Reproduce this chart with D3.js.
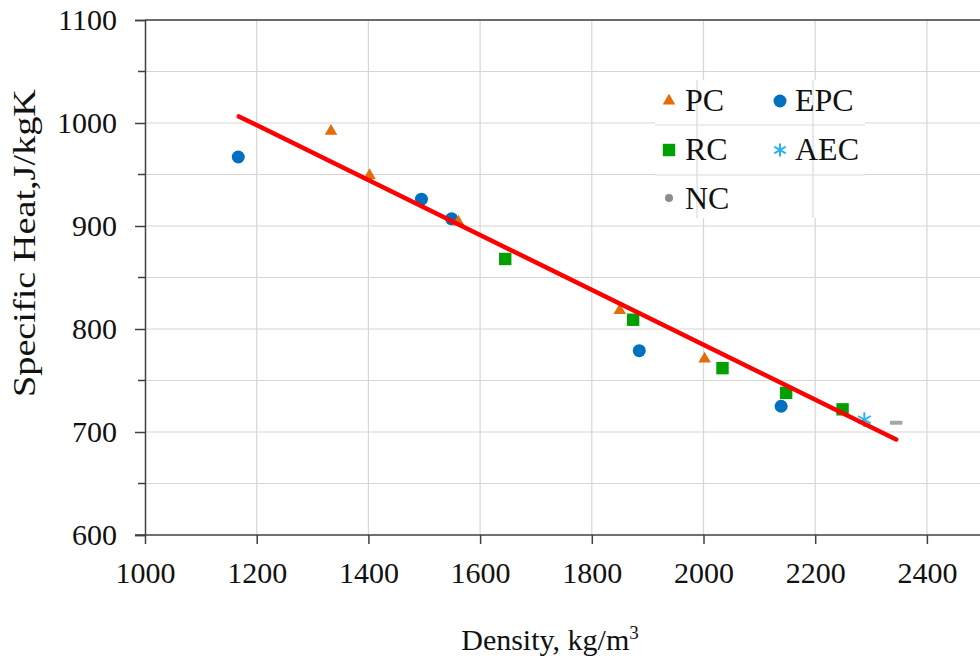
<!DOCTYPE html>
<html>
<head>
<meta charset="utf-8">
<script src="https://cdn.jsdelivr.net/npm/d3@7"></script>
<style>
  html, body { margin: 0; padding: 0; background: #fff; }
  svg { display: block; font-family: "Liberation Serif", "Times New Roman", serif; }
</style>
</head>
<body>
<svg id="chart" width="980" height="661"></svg>
<script>
// ---- Data ----
const seriesNames = ["PC", "EPC", "RC", "AEC", "NC"];
const pcDensity  = [1333, 1402, 1561, 1850, 2002];
const pcHeat     = [992, 949, 904, 818, 771];
const epcDensity = [1167, 1495, 1549, 1885, 2139];
const epcHeat    = [967, 926, 907, 779, 725];
const rcDensity  = [1645, 1874, 2034, 2148, 2249];
const rcHeat     = [868, 809, 762, 738, 722];
const aecDensity = [2288];
const aecHeat    = [712];
const ncDensity  = [2345];
const ncHeat     = [709];
// linear trend line (fitted over all points)
const trendDensity = [1168, 2345];
const trendHeat    = [1006.4, 692.8];

const xTicks = [1000, 1200, 1400, 1600, 1800, 2000, 2200, 2400];
const yTicks = [600, 700, 800, 900, 1000, 1100];
const yMinorTicks = [650, 750, 850, 950, 1050];

// ---- Layout ----
const svg = d3.select("#chart");
const W = 980, H = 661;
const plotLeft = 145, plotTop = 20, plotBottom = 535;
const x = d3.scaleLinear().domain([1000, 2600]).range([plotLeft, plotLeft + 1600 * 0.5585]);
const y = d3.scaleLinear().domain([600, 1100]).range([plotBottom, plotTop]);

const gridColor = "#d6d6d6";
const axisColor = "#404040";

// gridlines
svg.append("g").selectAll("line")
  .data(d3.range(650, 1101, 50))
  .join("line")
  .attr("x1", plotLeft).attr("x2", W)
  .attr("y1", d => y(d)).attr("y2", d => y(d))
  .attr("stroke", gridColor).attr("stroke-width", 1.2);

svg.append("g").selectAll("line")
  .data(xTicks.slice(1))
  .join("line")
  .attr("x1", d => x(d)).attr("x2", d => x(d))
  .attr("y1", plotTop).attr("y2", plotBottom)
  .attr("stroke", gridColor).attr("stroke-width", 1.2);

// top border
svg.append("line").attr("x1", plotLeft).attr("x2", W).attr("y1", plotTop).attr("y2", plotTop)
  .attr("stroke", axisColor).attr("stroke-width", 1.5);

// Y axis (major ticks with labels)
const yAxis = d3.axisLeft(y).tickValues(yTicks).tickSize(10).tickPadding(18).tickFormat(d3.format("d"));
const gy = svg.append("g").attr("transform", `translate(${plotLeft},0)`).call(yAxis);
gy.select(".domain").attr("stroke", axisColor).attr("stroke-width", 1.5);
gy.selectAll(".tick line").attr("stroke", axisColor).attr("stroke-width", 1.5);
gy.selectAll("text").attr("font-size", 30).attr("fill", "#111")
  .attr("font-family", "Liberation Serif, Times New Roman, serif");
// minor ticks
svg.append("g").selectAll("line")
  .data(yMinorTicks).join("line")
  .attr("x1", plotLeft - 7).attr("x2", plotLeft)
  .attr("y1", d => y(d)).attr("y2", d => y(d))
  .attr("stroke", axisColor).attr("stroke-width", 1.5);

// X axis
const xAxis = d3.axisBottom(x).tickValues(xTicks).tickSize(9).tickPadding(18).tickFormat(d3.format("d"));
const gx = svg.append("g").attr("transform", `translate(0,${plotBottom})`).call(xAxis);
gx.select(".domain").attr("stroke", axisColor).attr("stroke-width", 1.5)
  .attr("d", `M${plotLeft - 10},0H${W}`);
gx.selectAll(".tick line").attr("stroke", axisColor).attr("stroke-width", 1.5);
gx.selectAll("text").attr("font-size", 30).attr("fill", "#111")
  .attr("font-family", "Liberation Serif, Times New Roman, serif");

// Axis titles
const xt = svg.append("text").attr("x", 550).attr("y", 650)
  .attr("text-anchor", "middle").attr("font-size", 30).attr("fill", "#111");
xt.append("tspan").text("Density, kg/m");
xt.append("tspan").text("3").attr("font-size", 19).attr("dy", -11);

svg.append("text")
  .attr("transform", "translate(35,243) rotate(-90)")
  .attr("text-anchor", "middle").attr("font-size", 31).attr("fill", "#111")
  .attr("textLength", 308).attr("lengthAdjust", "spacingAndGlyphs")
  .text("Specific Heat,J/kgK");

// ---- Legend ----
const lg = svg.append("g");
lg.append("rect").attr("x", 655).attr("y", 80).attr("width", 210).attr("height", 138).attr("fill", "#fff");
// faint lines seen through legend
[[697, 80, 697, 218], [813, 80, 813, 218], [655, 125, 865, 125], [655, 175, 865, 175]].forEach(l => {
  lg.append("line").attr("x1", l[0]).attr("y1", l[1]).attr("x2", l[2]).attr("y2", l[3])
    .attr("stroke", "#dadada").attr("stroke-width", 1.2);
});

const colors = { PC: "#E46C0A", EPC: "#0070C0", RC: "#00A000", AEC: "#2CB3EE", NC: "#A6A6A6" };

function marker(g, name, cx, cy, legend) {
  if (name === "PC") {
    g.append("path").attr("d", d3.symbol(d3.symbolTriangle, 68)())
      .attr("transform", `translate(${cx},${cy})`).attr("fill", colors.PC);
  } else if (name === "EPC") {
    g.append("circle").attr("cx", cx).attr("cy", cy).attr("r", 6.5).attr("fill", colors.EPC);
  } else if (name === "RC") {
    g.append("rect").attr("x", cx - 6.2).attr("y", cy - 6.2).attr("width", 12.4).attr("height", 12.4).attr("fill", colors.RC);
  } else if (name === "AEC") {
    g.append("path").attr("d", d3.symbol(d3.symbolAsterisk, legend ? 120 : 150)())
      .attr("transform", `translate(${cx},${cy})`).attr("fill", "none")
      .attr("stroke", colors.AEC).attr("stroke-width", 2);
  } else if (name === "NC") {
    if (legend) {
      g.append("circle").attr("cx", cx).attr("cy", cy).attr("r", 4).attr("fill", "#8C8C8C");
    } else {
      g.append("rect").attr("x", cx - 6.3).attr("y", cy - 2).attr("width", 12.6).attr("height", 4).attr("rx", 1).attr("fill", colors.NC);
    }
  }
}

const legendItems = [
  { name: "PC", mx: 669, my: 101, tx: 685, ty: 111 },
  { name: "EPC", mx: 780, my: 101, tx: 795, ty: 111 },
  { name: "RC", mx: 669, my: 150, tx: 685, ty: 160 },
  { name: "AEC", mx: 780, my: 150, tx: 795, ty: 160 },
  { name: "NC", mx: 669, my: 198, tx: 685, ty: 209 }
];
legendItems.forEach(it => {
  marker(lg, it.name, it.mx, it.my, true);
  lg.append("text").attr("x", it.tx).attr("y", it.ty).attr("font-size", 32).attr("fill", "#111").text(it.name);
});

// ---- Data points ----
const pts = svg.append("g");
const series = [
  ["EPC", epcDensity, epcHeat],
  ["PC", pcDensity, pcHeat],
  ["RC", rcDensity, rcHeat],
  ["AEC", aecDensity, aecHeat],
  ["NC", ncDensity, ncHeat]
];
series.forEach(([name, xs, ys]) => {
  xs.forEach((d, i) => marker(pts, name, x(d), y(ys[i]), false));
});

// ---- Trend line ----
svg.append("path")
  .datum(trendDensity.map((d, i) => [d, trendHeat[i]]))
  .attr("d", d3.line().x(d => x(d[0])).y(d => y(d[1])))
  .attr("stroke", "#FF0000").attr("stroke-width", 4.5).attr("stroke-linecap", "round").attr("fill", "none");
</script>
</body>
</html>
